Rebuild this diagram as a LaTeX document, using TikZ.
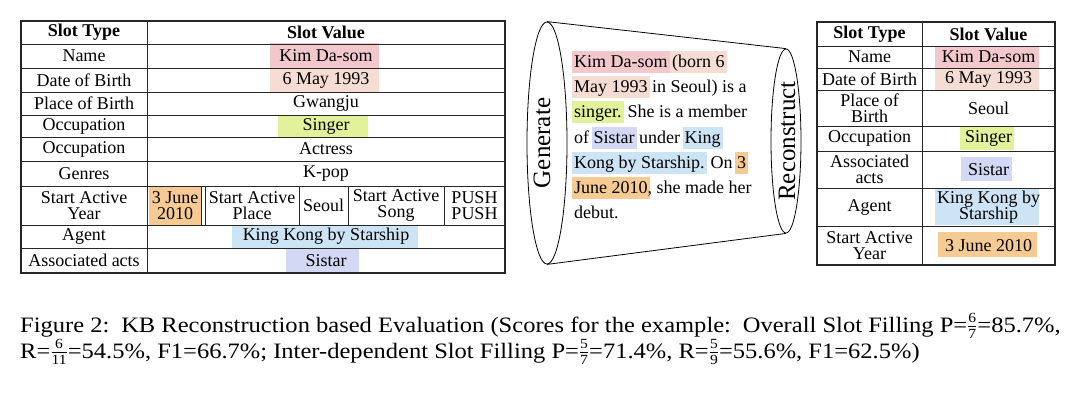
\documentclass[tikz,border=0pt]{standalone}
\usepackage{fontspec}
\setmainfont{Liberation Serif}
\newfontfamily\capfam{Liberation Serif}[FakeStretch=1.115]
\usetikzlibrary{shapes.geometric}
\definecolor{hpink}{HTML}{F2C8CC}
\definecolor{hpeach}{HTML}{F6DDD3}
\definecolor{hgreen}{HTML}{E2F29A}
\definecolor{horange}{HTML}{F6CB93}
\definecolor{hblue}{HTML}{CDE4F5}
\definecolor{hlav}{HTML}{D3D9F5}
\newlength\hlw
\newcommand\hl[2]{\settowidth\hlw{#2}\rlap{\kern-2pt\textcolor{#1}{\rule[-5.5pt]{\dimexpr\hlw+4pt\relax}{22pt}}}#2}
\newcommand\tabfont{\fontsize{18}{16.5}\selectfont}
\newcommand\parfont{\fontsize{18}{25}\selectfont}
\newcommand\capfont{\capfam\fontsize{22}{26}\selectfont}
\newcommand\myfr[2]{\raisebox{1pt}{$\frac{\hbox{\capfam\fontsize{14}{14}\selectfont #1}}{\hbox{\capfam\fontsize{14}{14}\selectfont #2}}$}}
\begin{document}
\begin{tikzpicture}[x=1pt,y=-1pt,
  tbl/.style={line width=0.9pt, black!85},
  outer/.style={line width=1.3pt, black!85},
  cell/.style={font=\tabfont, inner sep=0pt, align=center},
  hcell/.style={font=\tabfont\bfseries, inner sep=0pt, align=center},
  side/.style={font=\fontsize{25}{25}\selectfont, inner sep=0pt, rotate=90},
  pline/.style={font=\parfont, inner sep=0pt, anchor=base west},
  captext/.style={font=\capfont, inner sep=0pt, anchor=base west},
  cyl/.style={draw, ellipse, line width=0.8pt, inner sep=0pt}]
\useasboundingbox (0,0) rectangle (1080,397);
% ---------- left table highlights ----------
\fill[hpink] (270,43) rectangle (379,68);
\fill[hpeach] (270,68) rectangle (379,92);
\fill[hgreen] (278,115) rectangle (368,137);
\fill[horange] (149,187) rectangle (201,225);
\fill[hblue] (232,226) rectangle (418,248);
\fill[hlav] (286,249) rectangle (359,273);
% ---------- left table rules ----------
\foreach \yy in {44,68,92,115,137,161,186,225,248} \draw[tbl] (21,\yy) -- (505,\yy);
\draw[tbl] (147,21) -- (147,273);
\foreach \xx in {201,205,299,348,444} \draw[tbl] (\xx,186) -- (\xx,225);
\draw[outer] (21,21) rectangle (505,273);
% ---------- left table text ----------
\node[hcell] (lh1) at (84,32.5) {Slot Type};
\node[hcell] (lh2) at (326,32.5) {Slot Value};
\node[cell] (la1) at (84,56) {Name};
\node[cell] (lb1) at (326,56) {Kim Da-som};
\node[cell] (la2) at (84,80) {Date of Birth};
\node[cell] (lb2) at (326,80) {6 May 1993};
\node[cell] (la3) at (84,103.5) {Place of Birth};
\node[cell] (lb3) at (326,103.5) {Gwangju};
\node[cell] (la4) at (84,126) {Occupation};
\node[cell] (lb4) at (326,126) {Singer};
\node[cell] (la5) at (84,149) {Occupation};
\node[cell] (lb5) at (326,149) {Actress};
\node[cell] (la6) at (84,173.5) {Genres};
\node[cell] (lb6) at (326,173.5) {K-pop};
\node[cell] (la7) at (84,205.5) {Start Active\\Year};
\node[cell] (lc1) at (175,205.5) {3 June\\2010};
\node[cell] (lc2) at (252,205.5) {Start Active\\Place};
\node[cell] (lc3) at (323.5,205.5) {Seoul};
\node[cell] (lc4) at (396,205.5) {Start Active\\Song};
\node[cell] (lc5) at (474.5,205.5) {PUSH\\PUSH};
\node[cell] (la8) at (84,236.5) {Agent};
\node[cell] (lb8) at (326,236.5) {King Kong by Starship};
\node[cell] (la9) at (84,260.5) {Associated acts};
\node[cell] (lb9) at (326,260.5) {Sistar};
% ---------- cylinder ----------
\node[cyl, minimum width=40pt, minimum height=242pt] (gen) at (547,143) {};
\node[cyl, minimum width=30pt, minimum height=184pt] (rec) at (786,141) {};
\draw[line width=0.8pt] (gen.north) -- (rec.north);
\draw[line width=0.8pt] (gen.south) -- (rec.south);
\node[side] (gent) at (542,143) {Generate};
\node[side] (rect) at (787,141) {Reconstruct};
\node[pline] (p1) at (574,67) {\hl{hpink}{Kim Da-som }\hl{hpeach}{(born 6}};
\node[pline] (p2) at (574,92) {\hl{hpeach}{May 1993} in Seoul) is a};
\node[pline] (p3) at (574,117) {\hl{hgreen}{singer.} She is a member};
\node[pline] (p4) at (574,143) {of \hl{hlav}{Sistar} under \hl{hblue}{King}};
\node[pline] (p5) at (574,168) {\hl{hblue}{Kong by Starship.} On \hl{horange}{3}};
\node[pline] (p6) at (574,193) {\hl{horange}{June 2010}, she made her};
\node[pline] (p7) at (574,218) {debut.};
% ---------- right table highlights ----------
\fill[hpink] (935,47) rectangle (1039,68);
\fill[hpeach] (935,68) rectangle (1039,90);
\fill[hgreen] (960,127) rectangle (1014,150);
\fill[hlav] (961,157) rectangle (1012,181);
\fill[hblue] (935,188) rectangle (1039,225);
\fill[horange] (938,232) rectangle (1037,257);
% ---------- right table rules ----------
\foreach \yy in {46,68,90,126,151,188,226} \draw[tbl] (817,\yy) -- (1055,\yy);
\draw[tbl] (922,22) -- (922,265);
\draw[outer] (817,22) rectangle (1055,265);
% ---------- right table text ----------
\node[hcell] (rh1) at (869.5,34) {Slot Type};
\node[hcell] (rh2) at (988.5,34) {Slot Value};
\node[cell] (ra1) at (869.5,57) {Name};
\node[cell] (rb1) at (988.5,57) {Kim Da-som};
\node[cell] (ra2) at (869.5,79) {Date of Birth};
\node[cell] (rb2) at (988.5,79) {6 May 1993};
\node[cell] (ra3) at (869.5,108) {Place of\\Birth};
\node[cell] (rb3) at (988.5,108) {Seoul};
\node[cell] (ra4) at (869.5,138.5) {Occupation};
\node[cell] (rb4) at (988.5,138.5) {Singer};
\node[cell] (ra5) at (869.5,169.5) {Associated\\acts};
\node[cell] (rb5) at (988.5,169.5) {Sistar};
\node[cell] (ra6) at (869.5,207) {Agent};
\node[cell] (rb6) at (988.5,207) {King Kong by\\Starship};
\node[cell] (ra7) at (869.5,245.5) {Start Active\\Year};
\node[cell] (rb7) at (988.5,245.5) {3 June 2010};
% ---------- caption ----------
\node[captext] (cap1) at (20,332) {Figure 2:\, KB Reconstruction based Evaluation (Scores for the example:\, Overall Slot Filling P=\myfr{6}{7}=85.7\%,};
\node[captext] (cap2) at (20,358) {R=\myfr{6}{11}=54.5\%, F1=66.7\%; Inter-dependent Slot Filling P=\myfr{5}{7}=71.4\%, R=\myfr{5}{9}=55.6\%, F1=62.5\%)};
\end{tikzpicture}
\end{document}
